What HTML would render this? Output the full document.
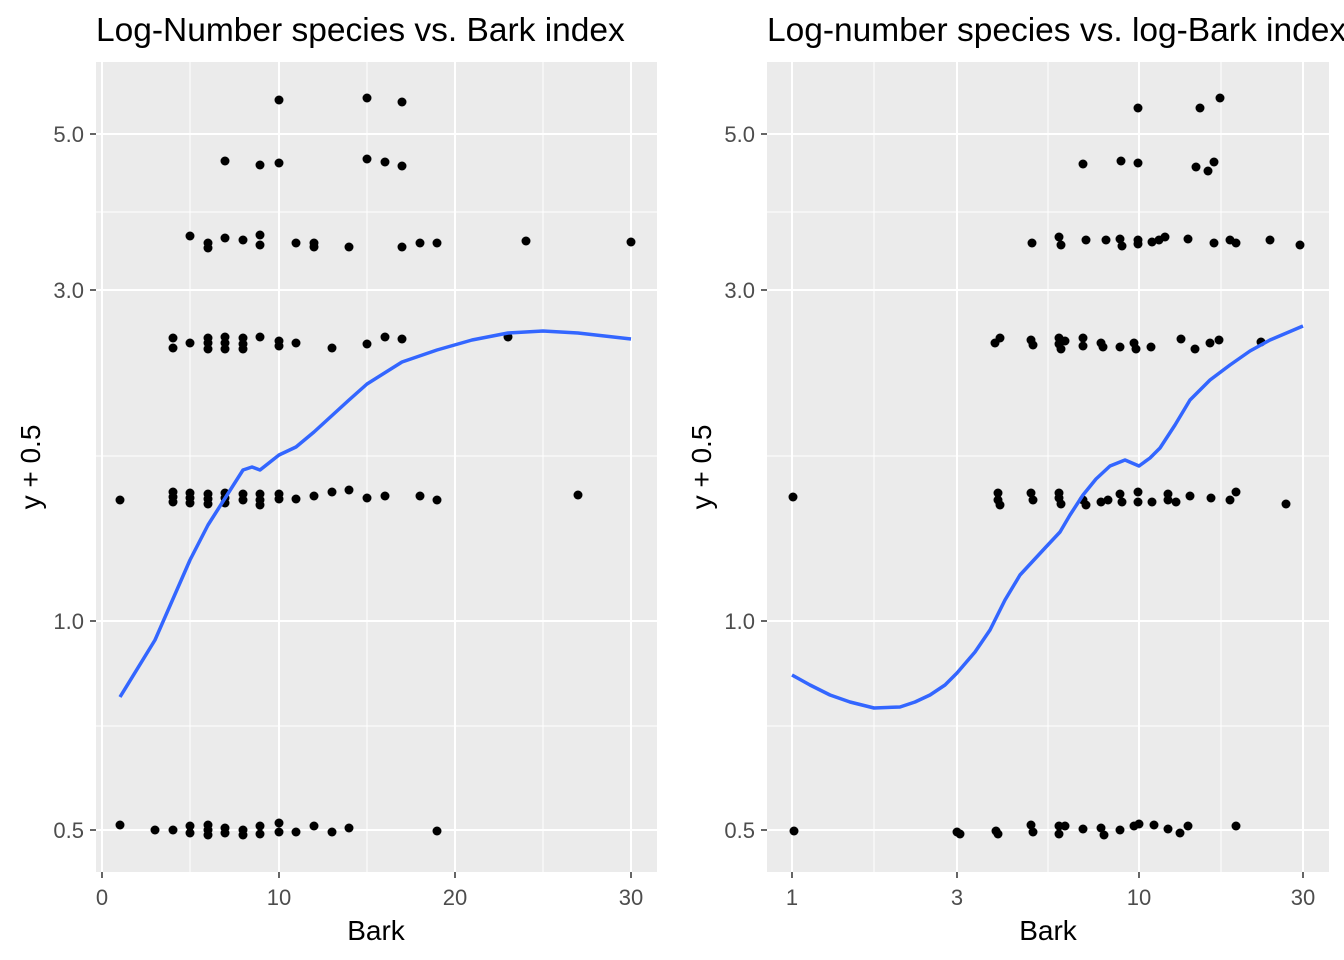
<!DOCTYPE html>
<html><head><meta charset="utf-8"><style>body{margin:0;background:#fff}svg{display:block}text{font-family:"Liberation Sans",sans-serif}</style></head><body>
<svg width="1344" height="960" xmlns="http://www.w3.org/2000/svg">
<rect width="1344" height="960" fill="#fff"/>
<!-- left panel -->
<rect x="96" y="62" width="561" height="810" fill="#ebebeb"/>
<g stroke="#fff" stroke-width="1">
<line x1="96" x2="657" y1="212" y2="212"/><line x1="96" x2="657" y1="456" y2="456"/><line x1="96" x2="657" y1="726" y2="726"/>
<line x1="190" x2="190" y1="62" y2="872"/><line x1="367" x2="367" y1="62" y2="872"/><line x1="543" x2="543" y1="62" y2="872"/>
</g>
<g stroke="#fff" stroke-width="2">
<line x1="96" x2="657" y1="134" y2="134"/><line x1="96" x2="657" y1="290" y2="290"/><line x1="96" x2="657" y1="621" y2="621"/><line x1="96" x2="657" y1="830" y2="830"/>
<line x1="102" x2="102" y1="62" y2="872"/><line x1="279" x2="279" y1="62" y2="872"/><line x1="455" x2="455" y1="62" y2="872"/><line x1="631" x2="631" y1="62" y2="872"/>
</g>
<g fill="#000">
<circle cx="120" cy="825" r="4.5"/><circle cx="155" cy="830" r="4.5"/><circle cx="173" cy="830" r="4.5"/><circle cx="190" cy="826" r="4.5"/><circle cx="190" cy="833" r="4.5"/><circle cx="208" cy="825" r="4.5"/><circle cx="208" cy="830" r="4.5"/><circle cx="208" cy="835" r="4.5"/><circle cx="225" cy="828" r="4.5"/><circle cx="225" cy="833" r="4.5"/><circle cx="243" cy="830" r="4.5"/><circle cx="243" cy="835" r="4.5"/><circle cx="260" cy="826" r="4.5"/><circle cx="260" cy="834" r="4.5"/><circle cx="279" cy="823" r="4.5"/><circle cx="279" cy="832" r="4.5"/><circle cx="296" cy="832" r="4.5"/><circle cx="314" cy="826" r="4.5"/><circle cx="332" cy="832" r="4.5"/><circle cx="349" cy="828" r="4.5"/><circle cx="437" cy="831" r="4.5"/>
<circle cx="120" cy="500" r="4.5"/><circle cx="173" cy="492" r="4.5"/><circle cx="173" cy="497" r="4.5"/><circle cx="173" cy="502" r="4.5"/><circle cx="190" cy="493" r="4.5"/><circle cx="190" cy="498" r="4.5"/><circle cx="190" cy="503" r="4.5"/><circle cx="208" cy="494" r="4.5"/><circle cx="208" cy="499" r="4.5"/><circle cx="208" cy="504" r="4.5"/><circle cx="225" cy="493" r="4.5"/><circle cx="225" cy="498" r="4.5"/><circle cx="225" cy="503" r="4.5"/><circle cx="243" cy="494" r="4.5"/><circle cx="243" cy="500" r="4.5"/><circle cx="260" cy="494" r="4.5"/><circle cx="260" cy="500" r="4.5"/><circle cx="260" cy="505" r="4.5"/><circle cx="279" cy="494" r="4.5"/><circle cx="279" cy="499" r="4.5"/><circle cx="296" cy="499" r="4.5"/><circle cx="314" cy="496" r="4.5"/><circle cx="332" cy="492" r="4.5"/><circle cx="349" cy="490" r="4.5"/><circle cx="367" cy="498" r="4.5"/><circle cx="385" cy="496" r="4.5"/><circle cx="420" cy="496" r="4.5"/><circle cx="437" cy="500" r="4.5"/><circle cx="578" cy="495" r="4.5"/>
<circle cx="173" cy="338" r="4.5"/><circle cx="173" cy="348" r="4.5"/><circle cx="190" cy="343" r="4.5"/><circle cx="208" cy="338" r="4.5"/><circle cx="208" cy="343" r="4.5"/><circle cx="208" cy="349" r="4.5"/><circle cx="225" cy="337" r="4.5"/><circle cx="225" cy="343" r="4.5"/><circle cx="225" cy="349" r="4.5"/><circle cx="243" cy="338" r="4.5"/><circle cx="243" cy="344" r="4.5"/><circle cx="243" cy="349" r="4.5"/><circle cx="260" cy="337" r="4.5"/><circle cx="279" cy="341" r="4.5"/><circle cx="279" cy="346" r="4.5"/><circle cx="296" cy="343" r="4.5"/><circle cx="332" cy="348" r="4.5"/><circle cx="367" cy="344" r="4.5"/><circle cx="385" cy="337" r="4.5"/><circle cx="402" cy="339" r="4.5"/><circle cx="508" cy="337" r="4.5"/>
<circle cx="190" cy="236" r="4.5"/><circle cx="208" cy="243" r="4.5"/><circle cx="208" cy="248" r="4.5"/><circle cx="225" cy="238" r="4.5"/><circle cx="243" cy="240" r="4.5"/><circle cx="260" cy="235" r="4.5"/><circle cx="260" cy="245" r="4.5"/><circle cx="296" cy="243" r="4.5"/><circle cx="314" cy="243" r="4.5"/><circle cx="314" cy="247" r="4.5"/><circle cx="349" cy="247" r="4.5"/><circle cx="402" cy="247" r="4.5"/><circle cx="420" cy="243" r="4.5"/><circle cx="437" cy="243" r="4.5"/><circle cx="526" cy="241" r="4.5"/><circle cx="631" cy="242" r="4.5"/>
<circle cx="225" cy="161" r="4.5"/><circle cx="260" cy="165" r="4.5"/><circle cx="279" cy="163" r="4.5"/><circle cx="367" cy="159" r="4.5"/><circle cx="385" cy="162" r="4.5"/><circle cx="402" cy="166" r="4.5"/>
<circle cx="279" cy="100" r="4.5"/><circle cx="367" cy="98" r="4.5"/><circle cx="402" cy="102" r="4.5"/>
</g>
<polyline fill="none" stroke="#3366ff" stroke-width="3.5" stroke-linejoin="round" points="120,697 155,640 190,560 208,525 243,470 252,467 260,470 279,455 296,447 314,432 349,400 367,384 402,362 437,350 472,340 508,333 543,331 578,333 631,339"/>
<g stroke="#333" stroke-width="1.5"><line x1="90" x2="96" y1="134" y2="134"/><line x1="90" x2="96" y1="290" y2="290"/><line x1="90" x2="96" y1="621" y2="621"/><line x1="90" x2="96" y1="830" y2="830"/>
<line x1="102" x2="102" y1="872" y2="878"/><line x1="279" x2="279" y1="872" y2="878"/><line x1="455" x2="455" y1="872" y2="878"/><line x1="631" x2="631" y1="872" y2="878"/></g>
<g fill="#4d4d4d" font-size="22" text-anchor="end"><text x="84" y="142">5.0</text><text x="84" y="298">3.0</text><text x="84" y="629">1.0</text><text x="84" y="838">0.5</text></g>
<g fill="#4d4d4d" font-size="22" text-anchor="middle"><text x="102" y="905">0</text><text x="279" y="905">10</text><text x="455" y="905">20</text><text x="631" y="905">30</text></g>
<text x="96" y="41" font-size="33.5">Log-Number species vs. Bark index</text>
<text x="376" y="940" font-size="28" text-anchor="middle">Bark</text>
<text transform="translate(40,467) rotate(-90)" font-size="28" text-anchor="middle">y + 0.5</text>
<!-- right panel -->
<rect x="767" y="62" width="562" height="810" fill="#ebebeb"/>
<g stroke="#fff" stroke-width="1">
<line x1="767" x2="1329" y1="212" y2="212"/><line x1="767" x2="1329" y1="456" y2="456"/><line x1="767" x2="1329" y1="726" y2="726"/>
<line x1="874" x2="874" y1="62" y2="872"/><line x1="1048" x2="1048" y1="62" y2="872"/><line x1="1221" x2="1221" y1="62" y2="872"/>
</g>
<g stroke="#fff" stroke-width="2">
<line x1="767" x2="1329" y1="134" y2="134"/><line x1="767" x2="1329" y1="290" y2="290"/><line x1="767" x2="1329" y1="621" y2="621"/><line x1="767" x2="1329" y1="830" y2="830"/>
<line x1="792" x2="792" y1="62" y2="872"/><line x1="957" x2="957" y1="62" y2="872"/><line x1="1139" x2="1139" y1="62" y2="872"/><line x1="1303" x2="1303" y1="62" y2="872"/>
</g>
<g fill="#000">
<circle cx="794" cy="831" r="4.5"/><circle cx="957" cy="832" r="4.5"/><circle cx="960" cy="834" r="4.5"/><circle cx="996" cy="831" r="4.5"/><circle cx="998" cy="834" r="4.5"/><circle cx="1031" cy="825" r="4.5"/><circle cx="1033" cy="832" r="4.5"/><circle cx="1059" cy="826" r="4.5"/><circle cx="1059" cy="834" r="4.5"/><circle cx="1065" cy="826" r="4.5"/><circle cx="1083" cy="829" r="4.5"/><circle cx="1101" cy="828" r="4.5"/><circle cx="1104" cy="835" r="4.5"/><circle cx="1120" cy="830" r="4.5"/><circle cx="1134" cy="826" r="4.5"/><circle cx="1139" cy="824" r="4.5"/><circle cx="1154" cy="825" r="4.5"/><circle cx="1168" cy="829" r="4.5"/><circle cx="1180" cy="833" r="4.5"/><circle cx="1188" cy="826" r="4.5"/><circle cx="1236" cy="826" r="4.5"/>
<circle cx="793" cy="497" r="4.5"/><circle cx="998" cy="493" r="4.5"/><circle cx="998" cy="500" r="4.5"/><circle cx="1000" cy="505" r="4.5"/><circle cx="1031" cy="493" r="4.5"/><circle cx="1033" cy="500" r="4.5"/><circle cx="1059" cy="493" r="4.5"/><circle cx="1059" cy="498" r="4.5"/><circle cx="1061" cy="504" r="4.5"/><circle cx="1083" cy="500" r="4.5"/><circle cx="1086" cy="505" r="4.5"/><circle cx="1101" cy="502" r="4.5"/><circle cx="1108" cy="500" r="4.5"/><circle cx="1120" cy="494" r="4.5"/><circle cx="1122" cy="502" r="4.5"/><circle cx="1138" cy="492" r="4.5"/><circle cx="1138" cy="502" r="4.5"/><circle cx="1152" cy="502" r="4.5"/><circle cx="1168" cy="494" r="4.5"/><circle cx="1168" cy="500" r="4.5"/><circle cx="1176" cy="502" r="4.5"/><circle cx="1190" cy="496" r="4.5"/><circle cx="1211" cy="498" r="4.5"/><circle cx="1230" cy="500" r="4.5"/><circle cx="1236" cy="492" r="4.5"/><circle cx="1286" cy="504" r="4.5"/>
<circle cx="995" cy="343" r="4.5"/><circle cx="1000" cy="338" r="4.5"/><circle cx="1031" cy="340" r="4.5"/><circle cx="1033" cy="345" r="4.5"/><circle cx="1059" cy="338" r="4.5"/><circle cx="1059" cy="344" r="4.5"/><circle cx="1061" cy="349" r="4.5"/><circle cx="1065" cy="341" r="4.5"/><circle cx="1083" cy="338" r="4.5"/><circle cx="1083" cy="346" r="4.5"/><circle cx="1101" cy="343" r="4.5"/><circle cx="1103" cy="347" r="4.5"/><circle cx="1120" cy="347" r="4.5"/><circle cx="1134" cy="343" r="4.5"/><circle cx="1136" cy="349" r="4.5"/><circle cx="1151" cy="347" r="4.5"/><circle cx="1181" cy="339" r="4.5"/><circle cx="1195" cy="349" r="4.5"/><circle cx="1210" cy="343" r="4.5"/><circle cx="1219" cy="340" r="4.5"/><circle cx="1261" cy="342" r="4.5"/>
<circle cx="1032" cy="243" r="4.5"/><circle cx="1059" cy="237" r="4.5"/><circle cx="1061" cy="245" r="4.5"/><circle cx="1086" cy="240" r="4.5"/><circle cx="1106" cy="240" r="4.5"/><circle cx="1120" cy="239" r="4.5"/><circle cx="1122" cy="246" r="4.5"/><circle cx="1138" cy="240" r="4.5"/><circle cx="1138" cy="244" r="4.5"/><circle cx="1152" cy="242" r="4.5"/><circle cx="1159" cy="240" r="4.5"/><circle cx="1165" cy="237" r="4.5"/><circle cx="1188" cy="239" r="4.5"/><circle cx="1214" cy="243" r="4.5"/><circle cx="1230" cy="240" r="4.5"/><circle cx="1236" cy="243" r="4.5"/><circle cx="1270" cy="240" r="4.5"/><circle cx="1300" cy="245" r="4.5"/>
<circle cx="1083" cy="164" r="4.5"/><circle cx="1121" cy="161" r="4.5"/><circle cx="1138" cy="163" r="4.5"/><circle cx="1196" cy="167" r="4.5"/><circle cx="1208" cy="171" r="4.5"/><circle cx="1214" cy="162" r="4.5"/>
<circle cx="1138" cy="108" r="4.5"/><circle cx="1200" cy="108" r="4.5"/><circle cx="1220" cy="98" r="4.5"/>
</g>
<polyline fill="none" stroke="#3366ff" stroke-width="3.5" stroke-linejoin="round" points="792,675 810,685 830,695 850,702 874,708 900,707 915,702 930,695 945,685 957,673 975,652 990,630 1005,600 1020,575 1045,548 1060,532 1070,515 1083,495 1096,479 1110,466 1125,460 1139,466 1150,458 1160,448 1175,425 1190,400 1210,380 1230,365 1250,351 1270,340 1303,326"/>
<g stroke="#333" stroke-width="1.5"><line x1="761" x2="767" y1="134" y2="134"/><line x1="761" x2="767" y1="290" y2="290"/><line x1="761" x2="767" y1="621" y2="621"/><line x1="761" x2="767" y1="830" y2="830"/>
<line x1="792" x2="792" y1="872" y2="878"/><line x1="957" x2="957" y1="872" y2="878"/><line x1="1139" x2="1139" y1="872" y2="878"/><line x1="1303" x2="1303" y1="872" y2="878"/></g>
<g fill="#4d4d4d" font-size="22" text-anchor="end"><text x="755" y="142">5.0</text><text x="755" y="298">3.0</text><text x="755" y="629">1.0</text><text x="755" y="838">0.5</text></g>
<g fill="#4d4d4d" font-size="22" text-anchor="middle"><text x="792" y="905">1</text><text x="957" y="905">3</text><text x="1139" y="905">10</text><text x="1303" y="905">30</text></g>
<text x="767" y="41" font-size="33.5">Log-number species vs. log-Bark index</text>
<text x="1048" y="940" font-size="28" text-anchor="middle">Bark</text>
<text transform="translate(711,467) rotate(-90)" font-size="28" text-anchor="middle">y + 0.5</text>
</svg>
</body></html>
